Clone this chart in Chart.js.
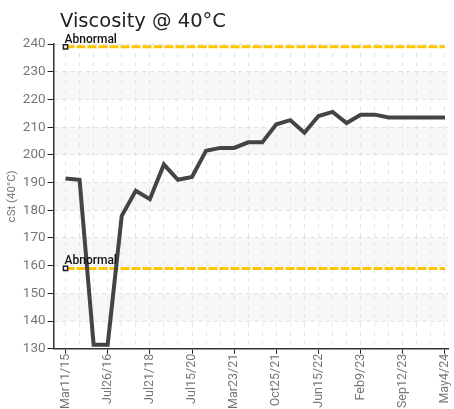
<!DOCTYPE html>
<html>
<head>
<meta charset="utf-8">
<script src="https://cdn.jsdelivr.net/npm/chart.js@4.4.0/dist/chart.umd.min.js"></script>
<style>
  html, body { margin: 0; padding: 0; background: #fff; }
  #wrap { position: relative; width: 454px; height: 409px; }
</style>
</head>
<body>
<div id="wrap"><canvas id="viscChart" width="454" height="409"></canvas></div>
<script>
// sample dates (only every third one is printed on the axis)
const dateLabels = [
  'Mar11/15', '', '', 'Jul26/16', '', '', 'Jul21/18', '', '', 'Jul15/20',
  '', '', 'Mar23/21', '', '', 'Oct25/21', '', '', 'Jun15/22', '', '',
  'Feb9/23', '', '', 'Sep12/23', '', '', 'May4/24'
];

// viscosity readings, cSt @ 40C
const viscosity = [
  191.5, 191, 131.5, 131.5, 178, 187, 184, 196.5, 191, 192,
  201.5, 202.5, 202.5, 204.5, 204.5, 211, 212.5, 208, 214, 215.5,
  211.5, 214.5, 214.5, 213.5, 213.5, 213.5, 213.5, 213.5
];

// alarm limits
const upperAbnormal = 239;
const lowerAbnormal = 159;

const yTicks = [130, 140, 150, 160, 170, 180, 190, 200, 210, 220, 230, 240];

const narrow = 'Roboto, "Liberation Sans", sans-serif';

function limitSeries(v) {
  return dateLabels.map((d, i) => ({ x: i, y: v }));
}

// light grey stripes behind the grid
const bandsPlugin = {
  id: 'bands',
  beforeDraw(chart) {
    const { ctx, chartArea, scales } = chart;
    const y = scales.y;
    ctx.save();
    ctx.fillStyle = '#f7f7f7';
    for (let v = 140; v < 240; v += 20) {
      const top = y.getPixelForValue(v + 10);
      const bot = y.getPixelForValue(v);
      ctx.fillRect(chartArea.left, top, chartArea.right - chartArea.left, bot - top);
    }
    ctx.restore();
  }
};

// title + "Abnormal" labels
const textPlugin = {
  id: 'texts',
  afterDatasetsDraw(chart) {
    const { ctx } = chart;
    ctx.save();
    ctx.fillStyle = '#222';
    ctx.font = '19.5px "DejaVu Sans", sans-serif';
    ctx.textBaseline = 'alphabetic';
    ctx.fillText('Viscosity @ 40°C', 60, 27);

    ctx.fillStyle = '#111';
    ctx.font = '500 12px ' + narrow;
    [0, 1].forEach(di => {
      const p = chart.getDatasetMeta(di).data[0];
      ctx.fillText('Abnormal', p.x - 1, p.y - 4);
    });
    ctx.restore();
  }
};

const ctx = document.getElementById('viscChart').getContext('2d');

const viscChart = new Chart(ctx, {
  type: 'line',
  data: {
    datasets: [
      {
        label: 'Abnormal high',
        data: limitSeries(upperAbnormal),
        borderColor: '#ffc400',
        borderWidth: 3,
        borderDash: [9, 2],
        pointStyle: 'rect',
        pointRadius: ctx => ctx.dataIndex === 0 ? 3 : 0,
        pointBackgroundColor: '#fff',
        pointBorderColor: '#222',
        pointBorderWidth: 1.5,
        order: 2
      },
      {
        label: 'Abnormal low',
        data: limitSeries(lowerAbnormal),
        borderColor: '#ffc400',
        borderWidth: 3,
        borderDash: [9, 2],
        pointStyle: 'rect',
        pointRadius: ctx => ctx.dataIndex === 0 ? 3 : 0,
        pointBackgroundColor: '#fff',
        pointBorderColor: '#222',
        pointBorderWidth: 1.5,
        order: 2
      },
      {
        label: 'Viscosity',
        data: viscosity.map((v, i) => ({ x: i, y: v })),
        borderColor: '#444',
        borderWidth: 4,
        pointRadius: 0,
        tension: 0,
        order: 1
      }
    ]
  },
  options: {
    responsive: false,
    animation: false,
    layout: {
      padding: { top: 44, right: 0, left: 5, bottom: 0 }
    },
    scales: {
      x: {
        type: 'linear',
        min: -0.85,
        max: 27.25,
        afterBuildTicks: scale => {
          scale.ticks = dateLabels.map((d, i) => ({ value: i }));
        },
        afterFit: scale => {
          scale.paddingRight = 0;
        },
        grid: {
          color: '#e3e3e3',
          tickColor: c => (c.tick && dateLabels[c.tick.value]) ? '#222' : 'rgba(0,0,0,0)',
          tickLength: 5,
          lineWidth: 1
        },
        border: {
          color: '#333',
          width: 1.5,
          dash: [4, 5]
        },
        ticks: {
          autoSkip: false,
          minRotation: 90,
          maxRotation: 90,
          padding: 0,
          color: '#777',
          font: { family: narrow, size: 12.5 },
          callback: v => dateLabels[v]
        }
      },
      y: {
        min: 130,
        max: 240,
        afterBuildTicks: scale => {
          scale.ticks = yTicks.map(v => ({ value: v }));
        },
        grid: {
          color: '#e0e0e0',
          tickColor: '#222',
          tickLength: 6,
          lineWidth: 1
        },
        border: {
          color: '#333',
          width: 1.5,
          dash: [4, 4]
        },
        ticks: {
          padding: 2,
          color: '#777',
          font: { family: narrow, size: 13.5 }
        },
        title: {
          display: true,
          text: 'cSt (40°C)',
          color: '#777',
          padding: { top: 0, bottom: 2 },
          font: { family: narrow, size: 11.5 }
        }
      }
    },
    plugins: {
      legend: { display: false },
      tooltip: { enabled: false }
    }
  },
  plugins: [bandsPlugin, textPlugin]
});
</script>
</body>
</html>
